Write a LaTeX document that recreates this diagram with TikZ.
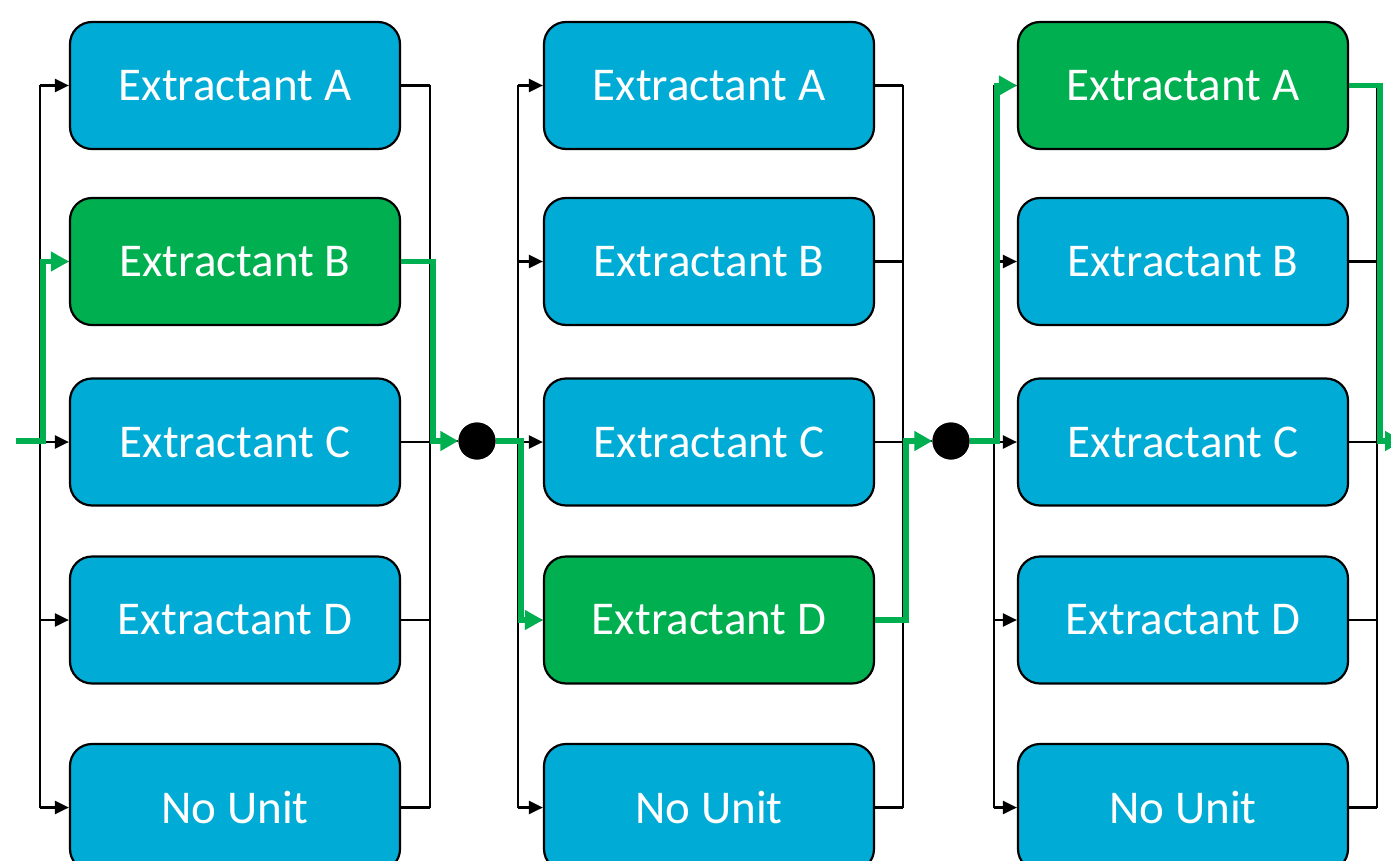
\documentclass[tikz,border=0pt]{standalone}
\usepackage{fontspec}
\setmainfont{Carlito}
\usetikzlibrary{arrows.meta}
\definecolor{boxblue}{RGB}{0,172,214}
\definecolor{boxgreen}{RGB}{0,176,80}
\tikzset{
 unit/.style={draw=black, line width=2.2pt, rounded corners=22pt, fill=boxblue, minimum width=330pt, minimum height=127pt, text=white, font=\fontsize{47}{52}\selectfont, inner sep=0pt},
 chosen/.style={unit, fill=boxgreen},
 wire/.style={draw=black, line width=2.4pt},
 feed/.style={wire, -{Triangle[length=14pt,width=13pt]}},
 route/.style={draw=boxgreen, line width=5.5pt},
 routearrow/.style={route, -{Triangle[length=18pt,width=19pt]}},
 junction/.style={circle, fill=black, minimum size=37pt, inner sep=0pt},
}
\begin{document}
\begin{tikzpicture}[x=1pt,y=-1pt]
\useasboundingbox (0,0) rectangle (1391,861);
\clip (0,0) rectangle (1391,861);
% boxes
\node[unit]   (c1r1) at (235,85.5)  {Extractant A};
\node[chosen] (c1r2) at (235,261.5) {Extractant B};
\node[unit]   (c1r3) at (235,442)   {Extractant C};
\node[unit]   (c1r4) at (235,620)   {Extractant D};
\node[unit]   (c1r5) at (235,807.5) {No Unit};
\node[unit]   (c2r1) at (709,85.5)  {Extractant A};
\node[unit]   (c2r2) at (709,261.5) {Extractant B};
\node[unit]   (c2r3) at (709,442)   {Extractant C};
\node[chosen] (c2r4) at (709,620)   {Extractant D};
\node[unit]   (c2r5) at (709,807.5) {No Unit};
\node[chosen] (c3r1) at (1183,85.5)  {Extractant A};
\node[unit]   (c3r2) at (1183,261.5) {Extractant B};
\node[unit]   (c3r3) at (1183,442)   {Extractant C};
\node[unit]   (c3r4) at (1183,620)   {Extractant D};
\node[unit]   (c3r5) at (1183,807.5) {No Unit};
% bus coordinates
\coordinate (L1) at (40,0);   \coordinate (R1) at (430,0);
\coordinate (L2) at (518,0);  \coordinate (R2) at (903,0);
\coordinate (L3) at (994,0);  \coordinate (R3) at (1377,0);
\coordinate (gL1) at (43,0);  \coordinate (gR1) at (433,0);
\coordinate (gL2) at (521,0); \coordinate (gR2) at (906,0);
\coordinate (gL3) at (997,0); \coordinate (gR3) at (1380,0);
\coordinate (in) at (16,441);
\coordinate (out) at (1403,441);
\node[junction] (d1) at (477,441) {};
\node[junction] (d2) at (951,441) {};
% black wiring
\foreach \c in {1,2,3}{
  \draw[wire] (c\c r1.west -| L\c) -- (c\c r5.west -| L\c);
  \draw[wire] (c\c r1.east -| R\c) -- (c\c r5.east -| R\c);
  \foreach \r in {1,...,5}{
    \draw[feed] (c\c r\r.west -| L\c) -- (c\c r\r.west);
    \draw[wire] (c\c r\r.east) -- (c\c r\r.east -| R\c);
  }
}
\draw[wire] (in) -- (in -| L1);
\draw[wire] (R1 |- d1) -- (d1) -- (L2 |- d1);
\draw[wire] (R2 |- d2) -- (d2) -- (L3 |- d2);
\draw[wire] (R3 |- out) -- (out);
% green route
\draw[routearrow] (in) -| (gL1 |- c1r2.west) -- (c1r2.west);
\draw[routearrow] (c1r2.east) -| (gR1 |- d1) -- (d1.west);
\draw[routearrow] (d1.east) -| (gL2 |- c2r4.west) -- (c2r4.west);
\draw[routearrow] (c2r4.east) -| (gR2 |- d2) -- (d2.west);
\draw[routearrow] (d2.east) -| (gL3 |- c3r1.west) -- (c3r1.west);
\draw[routearrow] (c3r1.east) -| (gR3 |- out) -- (out);
% junction dots on top
\node[junction] at (d1) {};
\node[junction] at (d2) {};
\end{tikzpicture}
\end{document}
